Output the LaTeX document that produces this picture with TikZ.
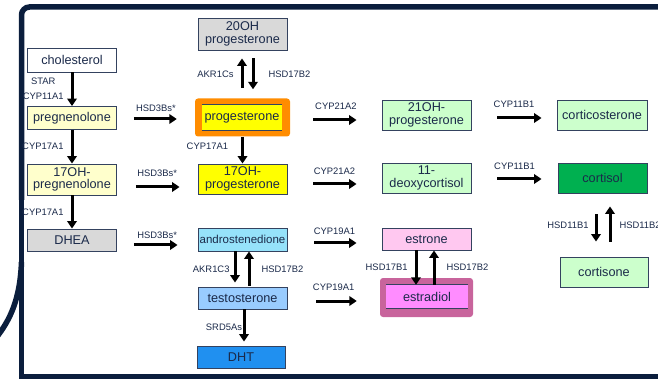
\documentclass[tikz,border=0pt]{standalone}
\usepackage{fontspec}
\setmainfont{Liberation Sans}
\usepackage[rgb]{xcolor}
\usepackage{tikz}
\usetikzlibrary{arrows.meta}

\definecolor{framenavy}{HTML}{0B1E3D}
\definecolor{inknavy}{HTML}{1B2A4A}
\definecolor{boxedge}{HTML}{34425F}
\definecolor{paleyellow}{HTML}{FFFFCC}
\definecolor{steroidgray}{HTML}{D9D9D9}
\definecolor{brightyellow}{HTML}{FFFF00}
\definecolor{progorange}{HTML}{FF8C00}
\definecolor{androcyan}{HTML}{96E2FA}
\definecolor{testoblue}{HTML}{99CCFF}
\definecolor{dhtblue}{HTML}{2090F0}
\definecolor{palegreen}{HTML}{CCFFCC}
\definecolor{cortisolgreen}{HTML}{00B050}
\definecolor{estronepink}{HTML}{FFC8F0}
\definecolor{estramauve}{HTML}{C8649C}
\definecolor{estrapink}{HTML}{FF8CFF}

\begin{document}
\begin{tikzpicture}[x=1pt, y=-1pt,
  steroid/.style={draw=boxedge, line width=0.9pt, text=inknavy, inner sep=0pt,
    align=center, font=\fontsize{12.7}{12.6}\selectfont,
    minimum width=89pt, minimum height=23pt},
  hilite/.style={draw=none, rounded corners=3pt, inner sep=0pt},
  core/.style={text=inknavy, inner sep=0pt, font=\fontsize{12.7}{12.6}\selectfont},
  rim/.style={draw=boxedge, line width=0.8pt},
  enzyme/.style={text=inknavy, inner sep=0pt, font=\fontsize{9.4}{15}\selectfont},
  rxn/.style={draw=black, line width=3pt, -{Triangle[length=7.5pt,width=9.5pt]}},
  frame/.style={draw=framenavy, line width=5.5pt}]

\useasboundingbox (0,0) rectangle (658,379);

% Slide frame
\draw[frame, rounded corners=8pt] (665,7) -- (21.5,7) -- (21.5,200);
\draw[frame] (21.5,190) -- (21.5,376.5) -- (665,376.5);
\draw[frame] (-4,338) .. controls (10,320) and (20,300) .. (21.5,262);

%
% Pregnane column
%
\path 
(72,60) node[steroid, fill=white, minimum height=24pt] (chol) {cholesterol};

\path 
(72,118) node[steroid, fill=paleyellow] (preg) {pregnenolone};

\path 
(72,179.5) node[steroid, fill=paleyellow, minimum height=31pt] (ohpreg) {17OH-\\pregnenolone};

\path 
(72,240) node[steroid, fill=steroidgray, minimum height=22pt] (dhea) {DHEA};


%
% Progestin / androgen column
%
\path 
(242.5,34) node[steroid, fill=steroidgray, minimum height=32pt] (ohprog20) {20OH\\progesterone};

\path 
(242.5,117.5) node[hilite, fill=progorange, minimum width=95pt, minimum height=38pt] (proghl) {};
\path 
(242,117.75) node[core, fill=brightyellow, minimum width=80pt, minimum height=25.5pt] (prog) {progesterone};
\draw[rim] (prog.north west) -- (prog.north east) (prog.south west) -- (prog.south east);

\path 
(242.5,179) node[steroid, fill=brightyellow, minimum height=30pt] (ohprog) {17OH-\\progesterone};

\path 
(242.5,239.5) node[steroid, fill=androcyan, font=\fontsize{11.5}{11}\selectfont] (andro) {androstenedione};

\path 
(242.5,298) node[steroid, fill=testoblue, minimum height=22pt] (testo) {testosterone};

\path 
(241,357) node[steroid, fill=dhtblue, minimum width=88pt, minimum height=22pt] (dht) {DHT};


%
% Corticoid / estrogen column
%
\path 
(426.5,115) node[steroid, fill=palegreen, minimum height=30pt] (ohprog21) {21OH-\\progesterone};

\path 
(426.5,178) node[steroid, fill=palegreen, minimum height=30pt] (deoxy) {11-\\deoxycortisol};

\path 
(426.5,239) node[steroid, fill=estronepink, minimum height=22pt] (estrone) {estrone};

\path 
(426.5,297.5) node[hilite, fill=estramauve, minimum width=93pt, minimum height=39pt] (estradiolhl) {};
\path 
(427,296.5) node[core, fill=estrapink, minimum width=82pt, minimum height=23pt] (estradiol) {estradiol};
\draw[rim] (estradiol.north west) -- (estradiol.north east) (estradiol.south west) -- (estradiol.south east);


%
% Glucocorticoid column
%
\path 
(602,115) node[steroid, fill=palegreen, minimum width=90pt, minimum height=30pt] (cortico) {corticosterone};

\path 
(602.5,178) node[steroid, fill=cortisolgreen, minimum height=30pt] (cortisol) {cortisol};

\path 
(604,272) node[steroid, fill=palegreen, minimum width=88pt, minimum height=30pt] (cortisone) {cortisone};


%
% Vertical steps
%
\draw[rxn] (chol) -- (preg) node[enzyme, midway, left=7pt, align=center] {STAR\\CYP11A1};
\draw[rxn] (preg) -- (ohpreg) node[enzyme, midway, left=7pt] {CYP17A1};
\draw[rxn] (ohpreg) -- (dhea) node[enzyme, midway, left=7pt] {CYP17A1};

\draw[rxn, shorten <=10.5pt, shorten >=8pt] ([xshift=-0.5pt]proghl.north) -- ([xshift=-0.5pt]ohprog20.south)
  node[enzyme, midway, left=7pt] {AKR1Cs};
\draw[rxn, shorten <=8pt, shorten >=9pt] ([xshift=10.5pt]ohprog20.south) -- ([xshift=10.5pt]proghl.north)
  node[enzyme, midway, right=14pt] {HSD17B2};

\draw[rxn] (proghl) -- (ohprog) node[enzyme, pos=0.35, left=13pt] {CYP17A1};

\draw[rxn, shorten >=4pt] ([xshift=-7.5pt]andro.south) -- ([xshift=-7.5pt]testo.north)
  node[enzyme, midway, left=4pt] {AKR1C3};
\draw[rxn, shorten <=1pt] ([xshift=6.5pt]testo.north) -- ([xshift=6.5pt]andro.south)
  node[enzyme, midway, right=11pt] {HSD17B2};

\draw[rxn, shorten >=4pt] ([xshift=1.5pt]testo.south) -- ([xshift=1.5pt]testo.south |- dht.north)
  node[enzyme, midway, left=0.5pt] {SRD5As};

\draw[rxn] ([xshift=-11pt]estradiol.north |- estrone.south) -- ([xshift=-11pt]estradiol.north)
  node[enzyme, midway, left=7pt] {HSD17B1};
\draw[rxn] ([xshift=7pt]estradiol.north) -- ([xshift=7pt]estradiol.north |- estrone.south)
  node[enzyme, midway, right=11pt] {HSD17B2};

\draw[rxn, shorten <=21pt, shorten >=15pt] ([xshift=-6.5pt]cortisol.south) -- ([xshift=-6.5pt]cortisol.south |- cortisone.north)
  node[enzyme, midway, left=6pt] {HSD11B1};
\draw[rxn, shorten <=15pt, shorten >=13pt] ([xshift=7.5pt]cortisol.south |- cortisone.north) -- ([xshift=7.5pt]cortisol.south)
  node[enzyme, midway, right=8pt] {HSD11B2};


%
% Horizontal steps
%
\draw[rxn, shorten <=17pt, shorten >=18pt] ([yshift=-1pt]preg.east) -- ([yshift=-1pt]preg.east -| proghl.west)
  node[enzyme, midway, above=5.7pt] {HSD3Bs*};
\draw[rxn, shorten <=19pt, shorten >=18pt] ([yshift=-7.5pt]ohpreg.east) -- ([yshift=-7.5pt]ohpreg.east -| ohprog.west)
  node[enzyme, midway, above=8.7pt] {HSD3Bs*};
\draw[rxn, shorten <=17pt, shorten >=20pt] ([yshift=-5pt]dhea.east) -- ([yshift=-5pt]dhea.east -| andro.west)
  node[enzyme, midway, above=4.7pt] {HSD3Bs*};

\draw[rxn, shorten <=23pt, shorten >=25pt] ([yshift=-2.5pt]proghl.east) -- ([yshift=-2.5pt]proghl.east -| ohprog21.west)
  node[enzyme, midway, above=8.7pt] {CYP21A2};
\draw[rxn, shorten <=26pt, shorten >=25pt] ([yshift=-5pt]ohprog.east) -- ([yshift=-5pt]ohprog.east -| deoxy.west)
  node[enzyme, midway, above=7.7pt] {CYP21A2};
\draw[rxn, shorten <=27pt, shorten >=25pt] ([yshift=-3.5pt]andro.east) -- ([yshift=-3.5pt]andro.east -| estrone.west)
  node[enzyme, midway, above=6.7pt] {CYP19A1};
\draw[rxn, shorten <=29pt, shorten >=23pt] ([yshift=-3pt]testo.east) -- ([yshift=-3pt]testo.east -| estradiolhl.west)
  node[enzyme, midway, above=8.7pt] {CYP19A1};

\draw[rxn, shorten <=26pt, shorten >=15pt] ([yshift=-3pt]ohprog21.east) -- ([yshift=-3pt]ohprog21.east -| cortico.west)
  node[enzyme, midway, above=8.7pt] {CYP11B1};
\draw[rxn, shorten <=26pt, shorten >=16pt] ([yshift=-1pt]deoxy.east) -- ([yshift=-1pt]deoxy.east -| cortisol.west)
  node[enzyme, midway, above=7.7pt] {CYP11B1};

\end{tikzpicture}
\end{document}
